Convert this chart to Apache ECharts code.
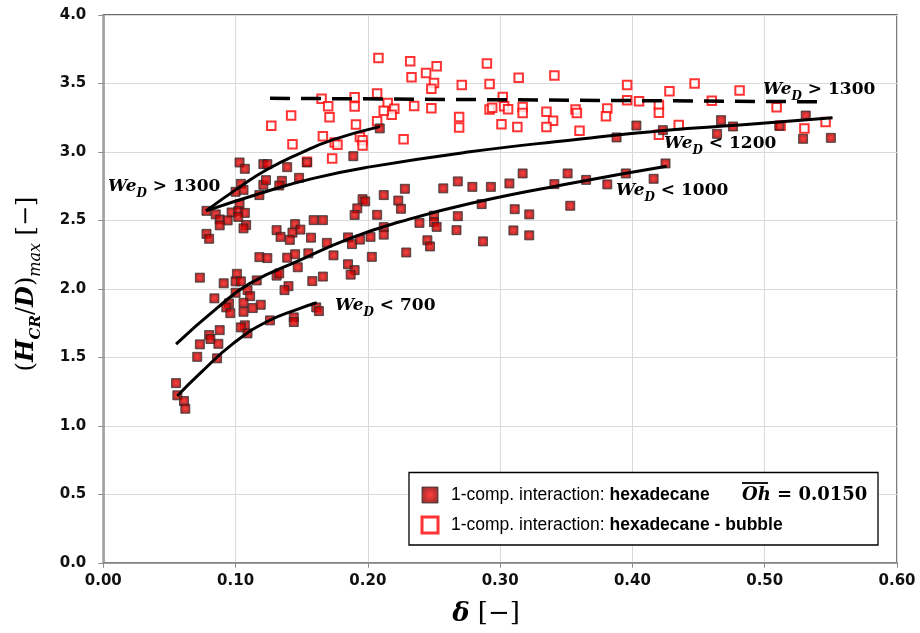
<!DOCTYPE html>
<html>
<head>
<meta charset="utf-8">
<script src="https://cdn.jsdelivr.net/npm/echarts@6/dist/echarts.min.js"></script>
<style>
  html, body { margin: 0; padding: 0; background: #fff; }
  #chart { width: 920px; height: 633px; }
</style>
</head>
<body>
<div id="chart"></div>
<script>
// ---- data: delta [-] vs (H_CR/D)_max [-] ----
const hexadecane = [
  [0.103,2.923],[0.107,2.877],[0.121,2.911],[0.124,2.911],[0.139,2.889],[0.154,2.923],[0.189,2.969],[0.209,3.172],
  [0.104,2.767],[0.106,2.723],[0.100,2.709],[0.121,2.760],[0.123,2.794],[0.135,2.789],[0.133,2.755],[0.148,2.811],[0.118,2.685],[0.103,2.617],
  [0.078,2.570],[0.085,2.544],[0.088,2.507],[0.097,2.558],[0.102,2.568],[0.107,2.555],[0.102,2.526],[0.094,2.500],[0.088,2.464],[0.108,2.466],[0.106,2.442],
  [0.078,2.402],[0.080,2.366],[0.131,2.429],[0.145,2.473],[0.149,2.433],[0.143,2.411],[0.134,2.380],[0.141,2.358],[0.157,2.374],[0.159,2.502],[0.166,2.502],[0.169,2.336],
  [0.185,2.376],[0.188,2.327],[0.194,2.360],[0.202,2.380],[0.192,2.588],[0.190,2.540],[0.196,2.655],[0.198,2.639],[0.207,2.541],[0.212,2.685],[0.228,2.731],[0.223,2.645],[0.225,2.585],
  [0.239,2.482],[0.250,2.535],[0.250,2.488],[0.252,2.453],[0.245,2.355],[0.247,2.310],[0.229,2.266],[0.212,2.451],[0.212,2.396],[0.203,2.234],
  [0.118,2.232],[0.124,2.225],[0.139,2.228],[0.145,2.253],[0.155,2.260],[0.147,2.158],[0.174,2.245],[0.185,2.180],[0.190,2.137],[0.187,2.104],[0.166,2.090],[0.158,2.057],
  [0.131,2.097],[0.133,2.113],[0.140,2.020],[0.137,1.991],[0.116,2.062],[0.073,2.082],[0.091,2.041],[0.101,2.110],[0.100,2.055],[0.104,2.055],[0.109,1.991],[0.111,1.947],[0.100,1.972],
  [0.084,1.931],[0.095,1.894],[0.093,1.865],[0.096,1.823],[0.106,1.899],[0.106,1.833],[0.113,1.860],[0.119,1.884],[0.126,1.770],[0.144,1.792],[0.144,1.758],[0.161,1.865],[0.163,1.838],
  [0.107,1.734],[0.104,1.719],[0.109,1.675],[0.088,1.699],[0.080,1.663],[0.081,1.634],[0.073,1.595],[0.087,1.599],[0.071,1.504],[0.086,1.493],[0.055,1.312],[0.056,1.223],[0.061,1.181],[0.062,1.125],
  [0.257,2.734],[0.268,2.785],[0.279,2.745],[0.293,2.745],[0.307,2.770],[0.317,2.843],[0.341,2.765],[0.351,2.843],[0.365,2.796],[0.381,2.763],[0.395,2.843],[0.416,2.804],[0.425,2.916],
  [0.268,2.531],[0.267,2.429],[0.286,2.619],[0.311,2.582],[0.322,2.544],[0.353,2.607],[0.310,2.427],[0.322,2.391],[0.287,2.347],
  [0.388,3.106],[0.403,3.193],[0.423,3.159],[0.467,3.232],[0.464,3.132],[0.476,3.186],[0.511,3.191],[0.531,3.266],[0.529,3.096],[0.550,3.103]
];

const hexadecaneBubble = [
  [0.208,3.686],[0.127,3.191],[0.142,3.266],[0.143,3.057],[0.165,3.388],[0.170,3.334],[0.171,3.254],[0.166,3.115],[0.175,3.069],[0.177,3.052],[0.154,2.928],[0.173,2.953],
  [0.190,3.400],[0.190,3.332],[0.191,3.201],[0.194,3.110],[0.196,3.086],[0.196,3.047],[0.207,3.426],[0.207,3.225],[0.232,3.663],[0.252,3.626],[0.233,3.546],[0.244,3.577],[0.250,3.504],[0.248,3.461],
  [0.290,3.646],[0.292,3.497],[0.271,3.488],[0.314,3.541],[0.341,3.558],[0.215,3.358],[0.220,3.315],[0.218,3.271],[0.212,3.300],[0.235,3.336],[0.248,3.320],[0.227,3.093],[0.269,3.256],[0.269,3.179],
  [0.292,3.310],[0.294,3.322],[0.302,3.402],[0.303,3.334],[0.306,3.312],[0.301,3.203],[0.313,3.183],[0.317,3.329],[0.317,3.285],[0.335,3.293],[0.340,3.227],[0.335,3.183],[0.357,3.310],[0.358,3.285],[0.360,3.154],
  [0.381,3.318],[0.380,3.261],[0.396,3.488],[0.396,3.378],[0.405,3.371],[0.420,3.342],[0.420,3.287],[0.420,3.126],[0.428,3.444],[0.447,3.500],[0.435,3.196],[0.460,3.373],[0.481,3.449],[0.509,3.327],[0.512,3.191],[0.530,3.172],[0.546,3.218]
];

// trend curves for the Weber-number groups
const fitWe1300 = [[0.0776,2.570],[0.1033,2.745],[0.1235,2.870],[0.1487,2.990],[0.1738,3.090],[0.2091,3.185]];
const fitWe1200 = [[0.0776,2.570],[0.1184,2.697],[0.1587,2.807],[0.2016,2.891],[0.2772,3.001],[0.3527,3.086],[0.4259,3.159],[0.4812,3.196],[0.5513,3.249]];
const fitWe1000 = [[0.0550,1.597],[0.0857,1.858],[0.1109,2.040],[0.1487,2.210],[0.1865,2.369],[0.2243,2.490],[0.2772,2.624],[0.3527,2.770],[0.4259,2.896]];
const fitWe700  = [[0.0559,1.218],[0.0731,1.383],[0.0983,1.602],[0.1235,1.760],[0.1487,1.858],[0.1613,1.899]];
const bubbleLevel = [[0.126,3.392],[0.5455,3.366]];

const xTicks = { min: 0, max: 0.6, step: 0.1 };
const yTicks = { min: 0, max: 4, step: 0.5 };

const NAME_HEX = '1-comp. interaction: hexadecane';
const NAME_BUB = '1-comp. interaction: hexadecane - bubble';

const SERIF = '"DejaVu Serif", "Liberation Serif", serif';
const SANS_TICK = '"DejaVu Sans", sans-serif';
const SANS = '"Liberation Sans", Arial, sans-serif';

const filledStyle = {
  color: {
    type: 'radial', x: 0.5, y: 0.5, r: 0.7,
    colorStops: [
      { offset: 0, color: '#ff1010' },
      { offset: 0.4, color: '#c80000' },
      { offset: 1, color: '#4a0000' }
    ]
  },
  borderColor: '#333333',
  borderWidth: 1
};
const hollowStyle = { color: '#ffffff', borderColor: '#ff0000', borderWidth: 2 };

function weRich(size) {
  return {
    w: { fontFamily: SERIF, fontStyle: 'italic', fontWeight: 'bold', fontSize: size, lineHeight: 26, verticalAlign: 'middle', fill: '#000' },
    s: { fontFamily: SERIF, fontStyle: 'italic', fontWeight: 'bold', fontSize: Math.round(size * 0.7), lineHeight: 14, verticalAlign: 'bottom', fill: '#000' },
    n: { fontFamily: SERIF, fontWeight: 'bold', fontSize: size, lineHeight: 26, verticalAlign: 'middle', fill: '#000' }
  };
}
function weLabel(x, y, rel, val) {
  return {
    type: 'text', x: x, y: y, z: 10,
    style: {
      text: '{w|We}{s|D}{n| ' + rel + ' ' + val + '}',
      rich: weRich(17),
      align: 'left', verticalAlign: 'middle'
    }
  };
}

const chart = echarts.init(document.getElementById('chart'), null, { renderer: 'canvas' });

const option = {
  animation: false,
  backgroundColor: '#ffffff',
  grid: {
    left: 103.3, right: 23, top: 15, bottom: 70.2,
    show: true, borderColor: '#3a3a3a', borderWidth: 1.3, backgroundColor: 'transparent'
  },
  xAxis: {
    type: 'value', min: xTicks.min, max: xTicks.max, interval: xTicks.step,
    axisLine: { show: true, onZero: false, lineStyle: { color: '#8c8c8c', width: 1.5 } },
    axisTick: { show: true, length: 5, lineStyle: { color: '#8c8c8c' } },
    axisLabel: {
      formatter: v => v.toFixed(2), margin: 11,
      fontFamily: SANS_TICK, fontWeight: 'bold', fontSize: 15, color: '#111'
    },
    splitLine: { show: true, lineStyle: { color: '#d9d9d9', width: 1 } }
  },
  yAxis: {
    type: 'value', min: yTicks.min, max: yTicks.max, interval: yTicks.step,
    axisLine: { show: true, onZero: false, lineStyle: { color: '#8c8c8c', width: 1.5 } },
    axisTick: { show: true, length: 5, lineStyle: { color: '#8c8c8c' } },
    axisLabel: {
      formatter: v => v.toFixed(1), margin: 17,
      fontFamily: SANS_TICK, fontWeight: 'bold', fontSize: 15, color: '#111'
    },
    splitLine: { show: true, lineStyle: { color: '#d9d9d9', width: 1 } }
  },
  legend: {
    orient: 'vertical', left: 420.5, top: 485, z: 6, padding: 0,
    itemWidth: 16, itemHeight: 16, itemGap: 10,
    data: [
      { name: NAME_HEX, icon: 'rect', itemStyle: filledStyle },
      { name: NAME_BUB, icon: 'rect', itemStyle: { color: '#fff', borderColor: '#ff0000', borderWidth: 3 } }
    ],
    formatter: name => {
      const i = name.indexOf(': ');
      return '{n|' + name.slice(0, i + 2) + '}{b|' + name.slice(i + 2) + '}';
    },
    textStyle: {
      lineHeight: 20,
      rich: {
        n: { fontFamily: SANS, fontSize: 17.5, color: '#000', padding: [0, 0, 0, 8] },
        b: { fontFamily: SANS, fontSize: 17.5, fontWeight: 'bold', color: '#000' }
      }
    }
  },
  graphic: [
    { type: 'rect', z: 5, shape: { x: 409, y: 472.5, width: 469, height: 72.5 },
      style: { fill: '#fff', stroke: '#000', lineWidth: 1.3 } },
    { type: 'text', x: 742, y: 495, z: 10,
      style: {
        text: '{i|Oh}{n| = 0.0150}', align: 'left', verticalAlign: 'middle',
        rich: {
          i: { fontFamily: SERIF, fontStyle: 'italic', fontWeight: 'bold', fontSize: 18, fill: '#000' },
          n: { fontFamily: SERIF, fontWeight: 'bold', fontSize: 18, fill: '#000' }
        }
      } },
    { type: 'line', z: 10, shape: { x1: 742, y1: 483, x2: 768, y2: 483 }, style: { stroke: '#000', lineWidth: 1.8 } },
    weLabel(108, 187, '>', '1300'),
    weLabel(763, 90, '>', '1300'),
    weLabel(664, 144, '<', '1200'),
    weLabel(616, 191, '<', '1000'),
    weLabel(335, 306, '<', '700'),
    // axis titles
    { type: 'text', x: 27, y: 284, rotation: Math.PI / 2, z: 10,
      style: {
        text: '{p|(}{m|H}{s|CR}{p|/}{m|D}{p|)}{t|max}{r| [−]}',
        align: 'center', verticalAlign: 'middle',
        rich: {
          p: { fontFamily: SERIF, fontSize: 24, lineHeight: 34, verticalAlign: 'middle', fill: '#000' },
          m: { fontFamily: SERIF, fontSize: 24, fontStyle: 'italic', fontWeight: 'bold', lineHeight: 34, verticalAlign: 'middle', fill: '#000' },
          s: { fontFamily: SERIF, fontSize: 15, fontStyle: 'italic', fontWeight: 'bold', lineHeight: 17, verticalAlign: 'bottom', fill: '#000' },
          t: { fontFamily: SERIF, fontSize: 16, fontStyle: 'italic', lineHeight: 17, verticalAlign: 'bottom', fill: '#000' },
          r: { fontFamily: SERIF, fontSize: 24, lineHeight: 34, verticalAlign: 'middle', fill: '#000' }
        }
      } },
    { type: 'text', x: 486, y: 614, z: 10,
      style: {
        text: '{m|δ}{r| [−]}', align: 'center', verticalAlign: 'middle',
        rich: {
          m: { fontFamily: SERIF, fontSize: 26, fontStyle: 'italic', fontWeight: 'bold', fill: '#000' },
          r: { fontFamily: SERIF, fontSize: 26, fill: '#000' }
        }
      } }
  ],
  series: [
    { name: NAME_BUB, type: 'scatter', data: hexadecaneBubble, symbol: 'rect', symbolSize: 8.5, z: 2,
      itemStyle: hollowStyle, emphasis: { disabled: true } },
    { name: NAME_HEX, type: 'scatter', data: hexadecane, symbol: 'rect', symbolSize: 9, z: 3,
      itemStyle: filledStyle, emphasis: { disabled: true } },
    { name: 'We1300', type: 'line', data: fitWe1300, smooth: true, showSymbol: false, z: 4,
      lineStyle: { color: '#000', width: 3 } },
    { name: 'We1200', type: 'line', data: fitWe1200, smooth: true, showSymbol: false, z: 4,
      lineStyle: { color: '#000', width: 3 } },
    { name: 'We1000', type: 'line', data: fitWe1000, smooth: true, showSymbol: false, z: 4,
      lineStyle: { color: '#000', width: 3 } },
    { name: 'We700', type: 'line', data: fitWe700, smooth: true, showSymbol: false, z: 4,
      lineStyle: { color: '#000', width: 3 } },
    { name: 'bubbleLevel', type: 'line', data: bubbleLevel, showSymbol: false, z: 4,
      lineStyle: { color: '#000', width: 3.5, type: [20, 11] } }
  ]
};

chart.setOption(option);
</script>
</body>
</html>
